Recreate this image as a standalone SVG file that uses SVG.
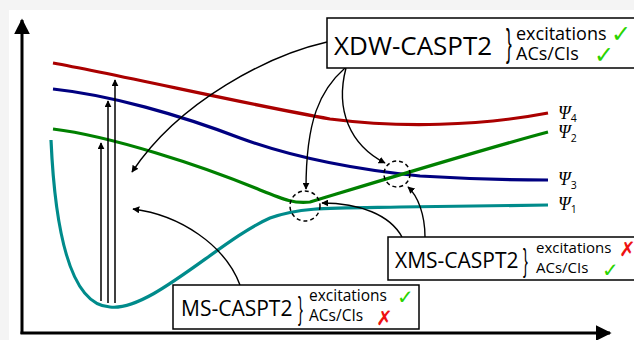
<svg xmlns="http://www.w3.org/2000/svg" width="634" height="340" viewBox="0 0 634 340">
<defs>
<marker id="ah" viewBox="0 0 10 10" refX="9" refY="5" markerWidth="7" markerHeight="7" markerUnits="userSpaceOnUse" orient="auto"><path d="M0,0 L10,5 L0,10 Z" fill="#000"/></marker>
<marker id="ax" viewBox="0 0 10 10" refX="9" refY="5" markerWidth="16" markerHeight="16" markerUnits="userSpaceOnUse" orient="auto"><path d="M0,0 L10,5 L0,10 Z" fill="#000"/></marker>
<style>
.pes{fill:none;stroke-width:3.2;stroke-linecap:butt}
.con{fill:none;stroke:#000;stroke-width:1.4;marker-end:url(#ah)}
.vert{fill:none;stroke:#000;stroke-width:1.5;marker-end:url(#ah)}
.box{fill:#fff;stroke:#000;stroke-width:1.5}
.dash{fill:none;stroke:#000;stroke-width:1.5;stroke-dasharray:4 3}
.t{font-family:"Open Sans","Noto Sans",sans-serif;fill:#000}
.br{font-family:"Liberation Sans",sans-serif;fill:#000}
.ok{font-family:"DejaVu Sans",sans-serif;fill:#2ad400}
.no{font-family:"DejaVu Sans",sans-serif;fill:#ee1111}
.psi{font-family:"Liberation Serif",serif;font-style:italic;font-size:18px;fill:#000}
.sub{font-family:"Open Sans",sans-serif;font-size:10.5px;fill:#000;font-style:normal}
</style>
</defs>
<rect x="0" y="0" width="634" height="340" fill="#f4f4f4"/>
<rect x="9" y="10" width="625" height="330" fill="#fff"/>

<g id="axes">
<line x1="22" y1="334" x2="22" y2="20" stroke="#000" stroke-width="3" marker-end="url(#ax)"/>
<line x1="20.5" y1="333" x2="610" y2="333" stroke="#000" stroke-width="3" marker-end="url(#ax)"/>
</g>

<g id="curves">
<path id="psi4" class="pes" stroke="#aa0000" d="M53,63 C120,75 250,105 330,119 C400,128 480,126 548,113"/>
<path id="psi3" class="pes" stroke="#000080" d="M53,89 C110,95 180,115 240,138 C300,160 360,170 420,176 C470,179 510,180 548,180"/>
<path id="psi2" class="pes" stroke="#008000" d="M53,129 C110,136 200,165 260,190 C285,200 295,204 310,202 C340,193 480,150 548,132"/>
<path id="psi1" class="pes" stroke="#008b8b" d="M51,140 C55,230 70,305 110,307 C150,312 220,240 270,218 C300,207 330,208 400,207 L548,205"/>
</g>

<g id="labels">
<text class="psi" x="558" y="119">Ψ<tspan class="sub" dy="3">4</tspan></text>
<text class="psi" x="558" y="138">Ψ<tspan class="sub" dy="4">2</tspan></text>
<text class="psi" x="558" y="185">Ψ<tspan class="sub" dy="4">3</tspan></text>
<text class="psi" x="558" y="210">Ψ<tspan class="sub" dy="3">1</tspan></text>
</g>

<g id="excitation-arrows">
<line class="vert" x1="101" y1="301" x2="101" y2="143"/>
<line class="vert" x1="108" y1="303" x2="108" y2="101"/>
<line class="vert" x1="115" y1="303" x2="115" y2="80"/>
</g>

<g id="crossings">
<circle class="dash" cx="305" cy="206" r="15"/>
<circle class="dash" cx="397" cy="174" r="13"/>
</g>

<g id="connectors">
<path class="con" d="M327,42 C270,55 180,100 132,172"/>
<path class="con" d="M345,68 C320,90 306,120 306,189"/>
<path class="con" d="M346,68 C335,110 350,145 385,163"/>
<path class="con" d="M425,237 C425,215 418,196 408,187"/>
<path class="con" d="M402,237 C390,215 360,203 322,203"/>
<path class="con" d="M240,285 C225,245 180,215 133,209"/>
</g>

<g id="xdw-box">
<rect class="box" x="327" y="18" width="320" height="50"/>
<text class="t" x="334" y="55" font-size="26">XDW-CASPT2</text>
<text class="br" x="0" y="0" font-size="38" transform="translate(506,56) scale(0.45,1)">}</text>
<text class="t" x="516" y="40" font-size="18">excitations</text>
<text class="t" x="516" y="60" font-size="18">ACs/CIs</text>
<text class="ok" x="611" y="42" font-size="24">✓</text>
<text class="ok" x="594" y="63" font-size="24">✓</text>
</g>

<g id="xms-box">
<rect class="box" x="388" y="237" width="260" height="43"/>
<text class="t" x="395" y="268" font-size="21">XMS-CASPT2</text>
<text class="br" x="0" y="0" font-size="32" transform="translate(523,271) scale(0.45,1)">}</text>
<text class="t" x="536" y="253" font-size="15">excitations</text>
<text class="t" x="536" y="273" font-size="15">ACs/CIs</text>
<text class="no" x="619" y="256" font-size="20">✗</text>
<text class="ok" x="602" y="277" font-size="20">✓</text>
</g>

<g id="ms-box">
<rect class="box" x="173" y="285" width="246" height="44"/>
<text class="t" x="181" y="316" font-size="21">MS-CASPT2</text>
<text class="br" x="0" y="0" font-size="32" transform="translate(298,319) scale(0.45,1)">}</text>
<text class="t" x="309" y="301" font-size="15.5">excitations</text>
<text class="t" x="309" y="321" font-size="15.5">ACs/CIs</text>
<text class="ok" x="397" y="304" font-size="20">✓</text>
<text class="no" x="376" y="325" font-size="20">✗</text>
</g>
</svg>
